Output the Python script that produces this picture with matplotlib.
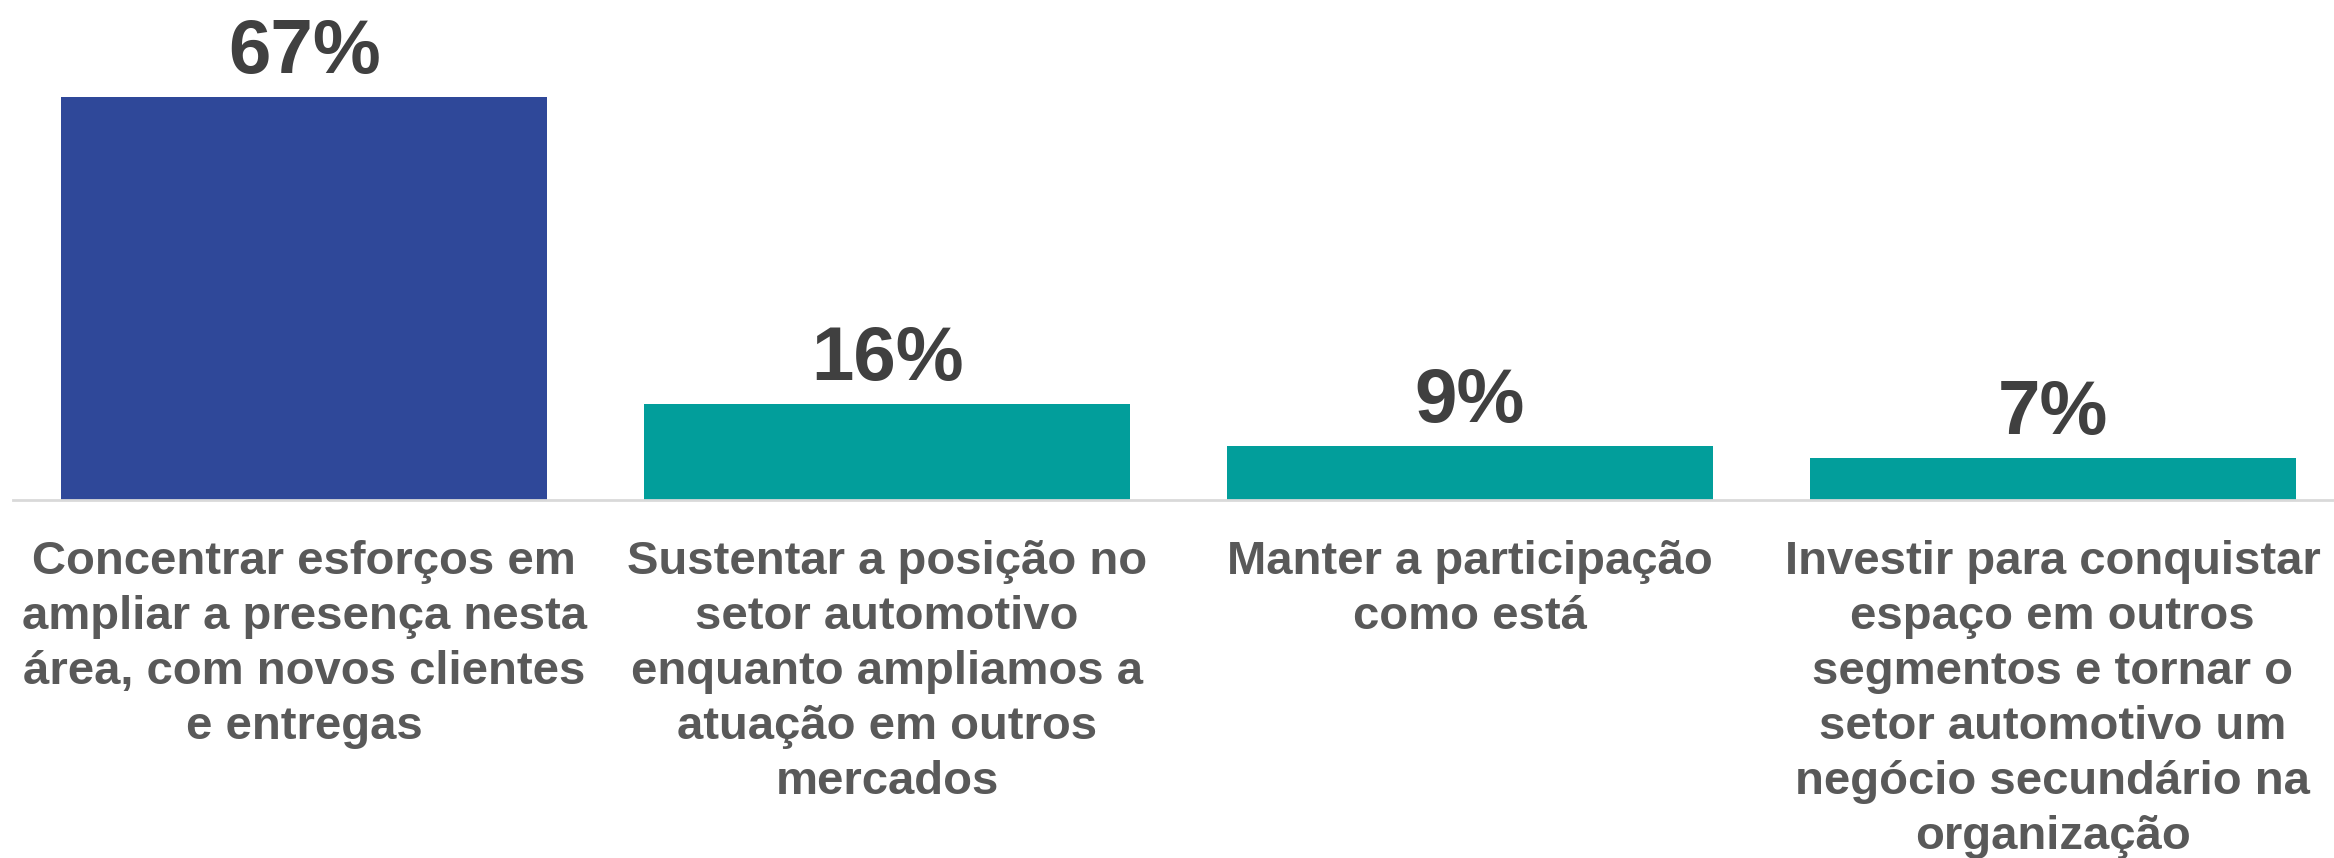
import matplotlib
matplotlib.use("Agg")
import matplotlib.pyplot as plt

categories = [
    "Concentrar esforços em\nampliar a presença nesta\nárea, com novos clientes\ne entregas",
    "Sustentar a posição no\nsetor automotivo\nenquanto ampliamos a\natuação em outros\nmercados",
    "Manter a participação\ncomo está",
    "Investir para conquistar\nespaço em outros\nsegmentos e tornar o\nsetor automotivo um\nnegócio secundário na\norganização",
]
values = [67, 16, 9, 7]
value_labels = ["67%", "16%", "9%", "7%"]
colors = ["#2F4899", "#029E9B", "#029E9B", "#029E9B"]

plt.rcParams['font.family'] = ['Liberation Sans', 'DejaVu Sans']

fig = plt.figure(figsize=(23.34, 8.58), dpi=100)
ax = fig.add_axes([13/2334, 1 - 500/858, (2344 - 13)/2334, (500 - 79)/858])

x = list(range(len(values)))
ax.bar(x, values, width=0.834, color=colors, zorder=2)
ax.set_xlim(-0.5, 3.5)
ax.set_ylim(0, 70)

for xi, v, lab in zip(x, values, value_labels):
    ax.annotate(lab, (xi, v), xytext=(0, 17), textcoords="offset points",
                ha="center", va="baseline", fontsize=55, fontweight="bold",
                color="#404040", annotation_clip=False)

for xi, cat in zip(x, categories):
    ax.annotate(cat, (xi, 0), xytext=(0, -29), textcoords="offset points",
                ha="center", va="top", fontsize=34, fontweight="bold",
                color="#595959", linespacing=1.32, annotation_clip=False)

for s in ["top", "left", "right"]:
    ax.spines[s].set_visible(False)
ax.spines["bottom"].set_color("#D9D9D9")
ax.spines["bottom"].set_linewidth(2)
ax.set_xticks([])
ax.set_yticks([])

fig.savefig("out.png", dpi=100)
